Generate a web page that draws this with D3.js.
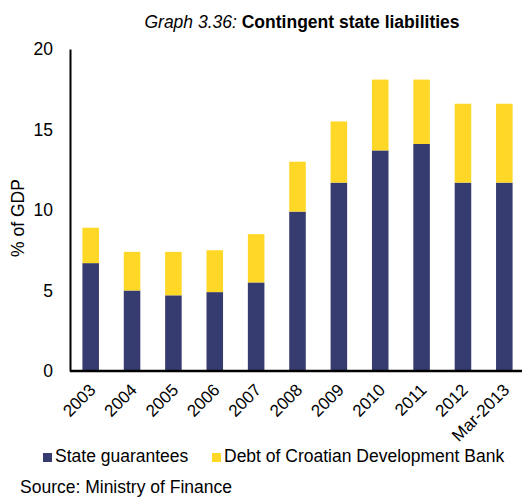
<!DOCTYPE html>
<html><head><meta charset="utf-8">
<script src="https://cdn.jsdelivr.net/npm/d3@7/dist/d3.min.js"></script>
<style>body{margin:0;background:#fff;} text{font-family:"Liberation Sans",Arial,sans-serif;fill:#000;}</style>
</head><body>
<script>
const categories = ["2003","2004","2005","2006","2007","2008","2009","2010","2011","2012","Mar-2013"];
const stateGuarantees = [6.7, 5.0, 4.7, 4.9, 5.5, 9.9, 11.7, 13.7, 14.1, 11.7, 11.7];
const debtHBOR = [2.2, 2.4, 2.7, 2.6, 3.0, 3.1, 3.8, 4.4, 4.0, 4.9, 4.9];
const yTicks = [0, 5, 10, 15, 20];
const seriesNames = ["State guarantees", "Debt of Croatian Development Bank"];
const colors = ["#363c70", "#ffd726"];

const W = 522, H = 497;
const svg = d3.select("body").append("svg").attr("width", W).attr("height", H);

const x = d3.scaleBand().domain(categories).range([70, 525]).paddingInner(0.6).paddingOuter(0.3);
const y = d3.scaleLinear().domain([0, 20]).range([371, 49]);

const rows = categories.map((c, i) => ({cat: c, g: stateGuarantees[i], d: debtHBOR[i]}));
const stack = d3.stack().keys(["g", "d"])(rows);

svg.selectAll("g.series").data(stack).join("g").attr("fill", (s, i) => colors[i])
  .selectAll("rect").data(s => s).join("rect")
  .attr("x", d => x(d.data.cat))
  .attr("width", x.bandwidth())
  .attr("y", d => y(d[1]))
  .attr("height", d => y(d[0]) - y(d[1]));

// y axis
const yAxis = svg.append("g").attr("transform", "translate(70,0)")
  .call(d3.axisLeft(y).tickValues(yTicks).tickSize(0).tickPadding(17));
yAxis.select(".domain").attr("stroke", "#000").attr("stroke-width", 2);
yAxis.selectAll("text").attr("font-size", 17.5).style("font-family", "Liberation Sans, Arial, sans-serif");

// x axis
const xAxis = svg.append("g").attr("transform", "translate(0,371)")
  .call(d3.axisBottom(x).tickSize(0).tickPadding(0));
xAxis.select(".domain").attr("d", "M70,0H522").attr("stroke", "#000").attr("stroke-width", 2.5);
xAxis.selectAll("text")
  .attr("font-size", 17)
  .style("font-family", "Liberation Sans, Arial, sans-serif")
  .attr("text-anchor", "end")
  .attr("dy", 0)
  .attr("transform", "translate(6,20) rotate(-45)");

// y label
svg.append("text").attr("transform", "translate(24,218) rotate(-90)")
  .attr("text-anchor", "middle").attr("font-size", 17.5).text("% of GDP");

// title
const t = svg.append("text").attr("x", 302).attr("y", 28).attr("text-anchor", "middle").attr("font-size", 17.5);
t.append("tspan").attr("font-style", "italic").text("Graph 3.36: ");
t.append("tspan").attr("font-weight", "bold").text("Contingent state liabilities");

// legend
const leg = svg.append("g");
const legX = [43, 212];
seriesNames.forEach((n, i) => {
  leg.append("rect").attr("x", legX[i]).attr("y", 453).attr("width", 9).attr("height", 9).attr("fill", colors[i]);
  leg.append("text").attr("x", legX[i] + 12).attr("y", 462).attr("font-size", 17.5).text(n);
});

svg.append("text").attr("x", 20).attr("y", 493).attr("font-size", 17.5).text("Source: Ministry of Finance");
</script>
</body></html>
